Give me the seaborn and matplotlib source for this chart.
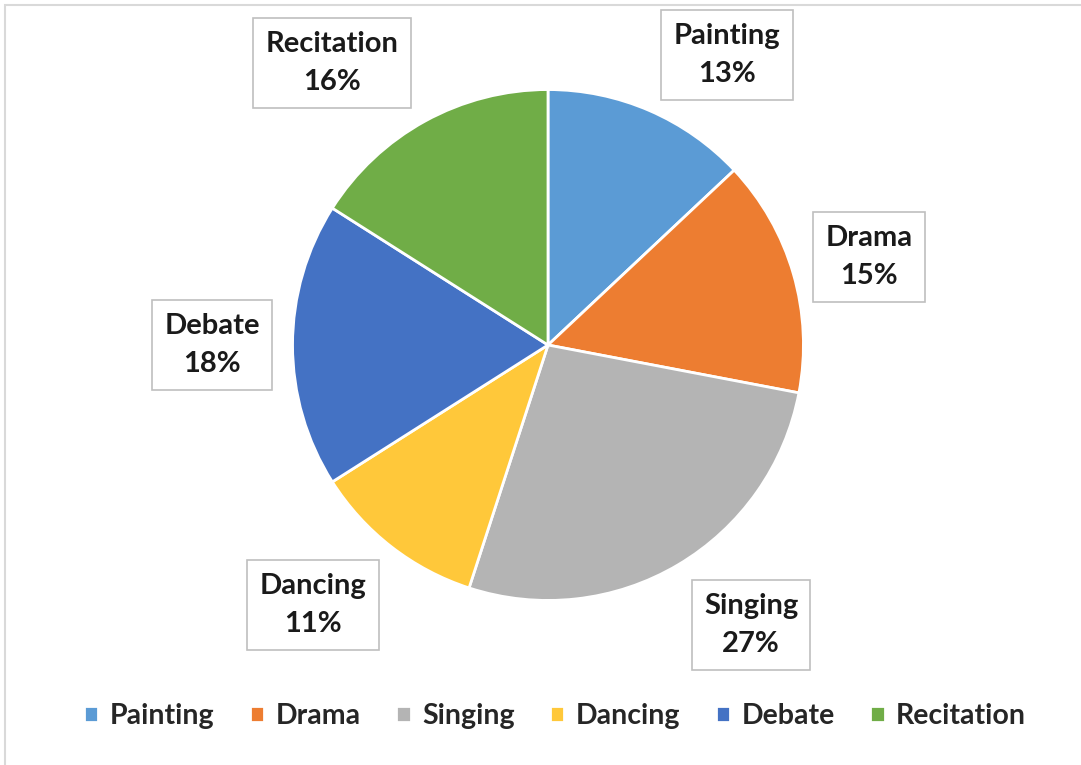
import matplotlib
matplotlib.use("Agg")
import matplotlib.pyplot as plt
import seaborn as sns
from matplotlib.patches import Rectangle

# chart data
activities = ['Painting', 'Drama', 'Singing', 'Dancing', 'Debate', 'Recitation']
shares = [13, 15, 27, 11, 18, 16]
colors = ['#5B9BD5', '#ED7D31', '#B4B4B4', '#FFC83A', '#4472C4', '#70AD47']

# label box centres in figure pixels (layout only)
label_px = [(727, 55), (869, 257), (751, 625), (313, 605), (212, 345), (332, 63)]

sns.set_theme(style='white')
plt.rcParams['font.family'] = ['Lato', 'DejaVu Sans']

W, H = 1081, 765
fig = plt.figure(figsize=(W / 100, H / 100), dpi=100)
fig.patch.set_facecolor('white')

# outer frame
fig.patches.append(Rectangle((5 / W, -0.01), 1.0, 1 - 5 / H + 0.01, transform=fig.transFigure,
                             fill=False, edgecolor='#D9D9D9', linewidth=1.5))

cx, cy, r = 548, 345, 258
ax = fig.add_axes([(cx - r) / W, (H - cy - r) / H, 2 * r / W, 2 * r / H])
wedges, _ = ax.pie(shares, colors=colors, startangle=90, counterclock=False,
                   wedgeprops=dict(edgecolor='white', linewidth=2))
ax.set_xlim(-1.01, 1.01)
ax.set_ylim(-1.01, 1.01)
ax.set_aspect('equal')
ax.axis('off')

for name, val, (px, py) in zip(activities, shares, label_px):
    fig.text(px / W, 1 - py / H, f'{name}\n{val}%', ha='center', va='center',
             fontsize=21, fontweight='bold', color='#1a1a1a', linespacing=1.6,
             bbox=dict(boxstyle='square,pad=0.42', facecolor='white', edgecolor='#BFBFBF', linewidth=1.2))

leg = fig.legend(wedges, activities, loc='center', bbox_to_anchor=(555 / W, 1 - 716 / H),
                 ncol=6, frameon=False, handlelength=0.5, handleheight=0.5, handletextpad=0.4,
                 columnspacing=1.25, prop=dict(family='Lato', size=20.5, weight='bold'))
for t in leg.get_texts():
    t.set_color('#262626')

fig.savefig('out.png', dpi=100, facecolor='white')
